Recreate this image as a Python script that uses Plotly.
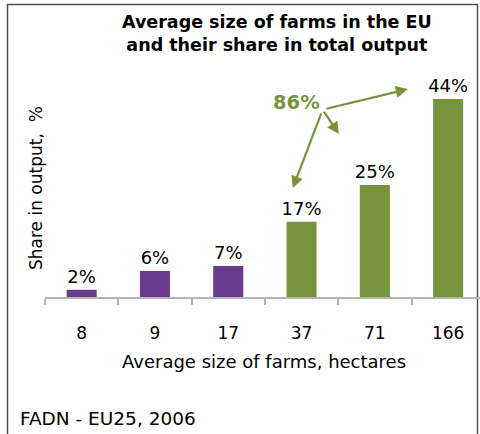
import plotly.graph_objects as go

categories = ["8", "9", "17", "37", "71", "166"]
shares = [1.6, 5.8, 6.9, 16.7, 24.9, 44.0]
share_labels = ["2%", "6%", "7%", "17%", "25%", "44%"]
group = ["small", "small", "small", "large", "large", "large"]

PURPLE = "#6A3A8D"
GREEN = "#77933C"
colors = [PURPLE if g == "small" else GREEN for g in group]

W, H = 480, 434
ML, MR, MT, MB = 45, 0, 72, 137
FONT = "DejaVu Sans, Verdana, sans-serif"

fig = go.Figure()
fig.add_trace(go.Bar(
    x=categories, y=shares, marker=dict(color=colors, line=dict(width=0)),
    width=0.41, text=share_labels, textposition="outside",
    textfont=dict(family=FONT, size=18, color="#000000"),
    cliponaxis=False, hoverinfo="skip",
))

plot_w = W - ML - MR
cat_px = 73.3

fig.update_layout(
    width=W, height=H,
    margin=dict(l=ML, r=MR, t=MT, b=MB, pad=0),
    paper_bgcolor="white", plot_bgcolor="white",
    showlegend=False,
    font=dict(family=FONT, color="#000000"),
    uniformtext=dict(minsize=18, mode="show"),
    xaxis=dict(
        type="category", range=[-0.5, -0.5 + plot_w / cat_px],
        showline=True, linecolor="#B4B4B4", linewidth=2,
        ticks="outside", ticklen=6, tickcolor="#B4B4B4", tickwidth=2,
        tickson="boundaries", showgrid=False, zeroline=False,
        tickfont=dict(family=FONT, size=17, color="#000000"),
        ticklabelstandoff=20,
    ),
    yaxis=dict(
        range=[0, 50], showline=False, showgrid=False, zeroline=False,
        showticklabels=False, ticks="",
    ),
)

def px_to_paper_x(px):
    return (px - ML) / plot_w

def px_to_paper_y(py):
    return (H - MB - py) / (H - MT - MB)

# frame
fig.add_shape(type="rect", xref="paper", yref="paper",
              x0=px_to_paper_x(7.5), x1=px_to_paper_x(477.5),
              y0=px_to_paper_y(445), y1=px_to_paper_y(4.5),
              line=dict(color="#505050", width=1.5), fillcolor="rgba(0,0,0,0)", layer="below")

annotations = [
    dict(text="<b>Average size of farms in the EU<br>and their share in total output</b>",
         x=px_to_paper_x(277), y=px_to_paper_y(33), xref="paper", yref="paper",
         showarrow=False, font=dict(family=FONT, size=17.5, color="#000000"),
         xanchor="center", yanchor="middle", align="center"),
    dict(text="Share in output,  %", textangle=-90,
         x=px_to_paper_x(36), y=px_to_paper_y(188), xref="paper", yref="paper",
         showarrow=False, font=dict(family=FONT, size=17, color="#000000"),
         xanchor="center", yanchor="middle"),
    dict(text="Average size of farms, hectares",
         x=px_to_paper_x(264), y=px_to_paper_y(362), xref="paper", yref="paper",
         showarrow=False, font=dict(family=FONT, size=18, color="#000000"),
         xanchor="center", yanchor="middle"),
    dict(text="FADN - EU25, 2006",
         x=px_to_paper_x(18), y=px_to_paper_y(418), xref="paper", yref="paper",
         showarrow=False, font=dict(family=FONT, size=18.5, color="#000000"),
         xanchor="left", yanchor="middle"),
    dict(text="<b>86%</b>", x=2.93, y=43.3, xref="x", yref="y",
         showarrow=False, font=dict(family=FONT, size=19.5, color=GREEN),
         xanchor="center", yanchor="middle"),
]

arrows = [
    (4.45, 46.2, -83, 20),
    (3.51, 36.2, -16, -24),
    (2.88, 24.2, 29, -76),
]
for hx, hy, ax, ay in arrows:
    annotations.append(dict(
        text="", x=hx, y=hy, xref="x", yref="y", ax=ax, ay=ay,
        showarrow=True, arrowhead=2, arrowsize=1.1, arrowwidth=2.2,
        arrowcolor=GREEN, standoff=0, startstandoff=0,
    ))

fig.update_layout(annotations=annotations)
fig.write_html("out.html")
